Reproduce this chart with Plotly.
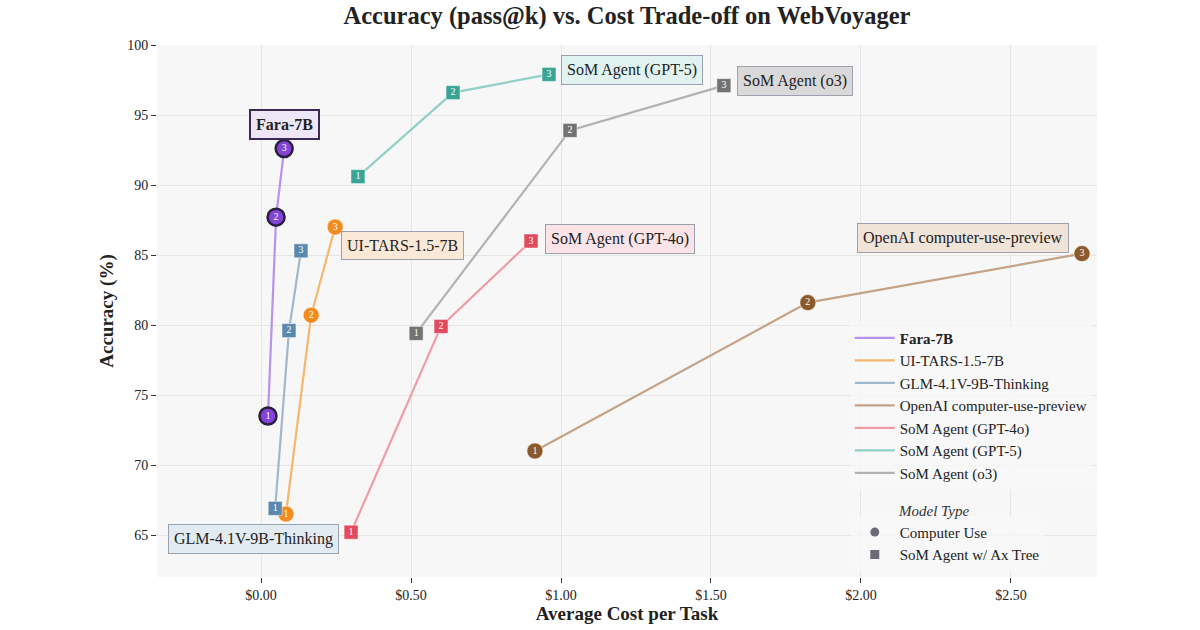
import plotly.graph_objects as go

series_names = ["Fara-7B", "UI-TARS-1.5-7B", "GLM-4.1V-9B-Thinking", "OpenAI computer-use-preview",
                "SoM Agent (GPT-4o)", "SoM Agent (GPT-5)", "SoM Agent (o3)"]
cost = {
    "Fara-7B": [0.023, 0.05, 0.077],
    "UI-TARS-1.5-7B": [0.083, 0.167, 0.247],
    "GLM-4.1V-9B-Thinking": [0.047, 0.093, 0.133],
    "OpenAI computer-use-preview": [0.913, 1.823, 2.737],
    "SoM Agent (GPT-4o)": [0.30, 0.60, 0.90],
    "SoM Agent (GPT-5)": [0.323, 0.64, 0.96],
    "SoM Agent (o3)": [0.517, 1.03, 1.543],
}
accuracy = {
    "Fara-7B": [73.5, 87.7, 92.6],
    "UI-TARS-1.5-7B": [66.5, 80.7, 87.0],
    "GLM-4.1V-9B-Thinking": [66.9, 79.6, 85.3],
    "OpenAI computer-use-preview": [71.0, 81.6, 85.1],
    "SoM Agent (GPT-4o)": [65.2, 79.9, 86.0],
    "SoM Agent (GPT-5)": [90.6, 96.6, 97.9],
    "SoM Agent (o3)": [79.4, 93.9, 97.1],
}
k_labels = ["1", "2", "3"]
model_type = {
    "Fara-7B": "circle", "UI-TARS-1.5-7B": "circle", "GLM-4.1V-9B-Thinking": "square",
    "OpenAI computer-use-preview": "circle", "SoM Agent (GPT-4o)": "square",
    "SoM Agent (GPT-5)": "square", "SoM Agent (o3)": "square",
}
marker_color = {
    "Fara-7B": "#8344d6", "UI-TARS-1.5-7B": "#f28c1e", "GLM-4.1V-9B-Thinking": "#5a89ad",
    "OpenAI computer-use-preview": "#8b5a2b", "SoM Agent (GPT-4o)": "#e44a5d",
    "SoM Agent (GPT-5)": "#3aa597", "SoM Agent (o3)": "#727272",
}
line_color = {
    "Fara-7B": "#b892ef", "UI-TARS-1.5-7B": "#f6b66c", "GLM-4.1V-9B-Thinking": "#9fb8cc",
    "OpenAI computer-use-preview": "#c4a386", "SoM Agent (GPT-4o)": "#f09ca7",
    "SoM Agent (GPT-5)": "#90d0c6", "SoM Agent (o3)": "#b2b2b2",
}
label_bg = {
    "Fara-7B": "#ede6f6", "UI-TARS-1.5-7B": "#fbe9d8", "GLM-4.1V-9B-Thinking": "#e3ebf2",
    "OpenAI computer-use-preview": "#f0e3d7", "SoM Agent (GPT-4o)": "#fbe4e8",
    "SoM Agent (GPT-5)": "#e1f3f0", "SoM Agent (o3)": "#d9d9d9",
}
# label anchor: (point index, x shift px, y shift px)
label_pos = {
    "Fara-7B": (2, 0, 24), "UI-TARS-1.5-7B": (2, 67, -18), "GLM-4.1V-9B-Thinking": (0, -22, -31),
    "OpenAI computer-use-preview": (2, -119, 16), "SoM Agent (GPT-4o)": (2, 89, 2),
    "SoM Agent (GPT-5)": (2, 83, 4), "SoM Agent (o3)": (2, 71, 5),
}
type_names = ["Computer Use", "SoM Agent w/ Ax Tree"]
type_symbols = ["circle", "square"]

font_family = "Liberation Serif, Times New Roman, serif"
fig = go.Figure()

for name in series_names:
    is_fara = name == "Fara-7B"
    sym = model_type[name]
    fig.add_trace(go.Scatter(
        x=cost[name], y=accuracy[name], mode="lines+markers+text",
        text=k_labels, textposition="middle center",
        textfont=dict(color="white", size=10, family=font_family),
        line=dict(color=line_color[name], width=2.2),
        marker=dict(symbol=sym, color=marker_color[name],
                    size=(17 if is_fara else 16) if sym == "circle" else 14,
                    line=dict(color="#2b1f40" if is_fara else "white", width=2.5 if is_fara else 0.5)),
        showlegend=False, cliponaxis=False,
    ))

# legend line entries
for name in series_names:
    fig.add_trace(go.Scatter(
        x=[None], y=[None], mode="lines", name=f"<b>{name}</b>" if name == "Fara-7B" else name,
        line=dict(color=line_color[name], width=2.2), legend="legend",
    ))

# model type legend
for tn, ts in zip(type_names, type_symbols):
    fig.add_trace(go.Scatter(
        x=[None], y=[None], mode="markers", name=tn,
        marker=dict(symbol=ts, color="#6b6b78", size=9), legend="legend2",
    ))

for name in series_names:
    idx, ax, ay = label_pos[name]
    is_fara = name == "Fara-7B"
    fig.add_annotation(
        x=cost[name][idx], y=accuracy[name][idx],
        text=f"<b>{name}</b>" if is_fara else name,
        showarrow=False, xshift=ax, yshift=ay,
        font=dict(size=16, color="#222", family=font_family),
        bgcolor=label_bg[name],
        bordercolor="#3c2a55" if is_fara else "#9aa3ad",
        borderwidth=2 if is_fara else 1, borderpad=5,
    )

fig.add_annotation(
    text="<i>Model Type</i>", xref="paper", yref="paper", x=0.786, y=0.124,
    xanchor="left", yanchor="middle", showarrow=False,
    font=dict(size=15, color="#333", family=font_family),
)

fig.update_layout(
    width=1200, height=630,
    margin=dict(l=157, r=103, t=45, b=53),
    paper_bgcolor="white", plot_bgcolor="#f7f7f7",
    font=dict(family=font_family, size=14, color="#222"),
    title=dict(text="<b>Accuracy (pass@k) vs. Cost Trade-off on WebVoyager</b>",
               x=0.5225, xanchor="center", y=0.975, yanchor="middle",
               font=dict(size=24.5, color="#222", family=font_family)),
    xaxis=dict(range=[-0.347, 2.787], tickvals=[0, 0.5, 1.0, 1.5, 2.0, 2.5],
               ticktext=["$0.00", "$0.50", "$1.00", "$1.50", "$2.00", "$2.50"],
               showgrid=True, gridcolor="#e6e6e6", zeroline=False, automargin=False,
               ticks="outside", ticklen=5, tickcolor="#333",
               title=dict(text="<b>Average Cost per Task</b>", font=dict(size=19), standoff=4),
               tickfont=dict(size=14)),
    yaxis=dict(range=[62, 100], tickvals=[65, 70, 75, 80, 85, 90, 95, 100],
               showgrid=True, gridcolor="#e6e6e6", zeroline=False, automargin=False,
               ticks="outside", ticklen=5, tickcolor="#333",
               title=dict(text="<b>Accuracy (%)</b>", font=dict(size=19), standoff=8),
               tickfont=dict(size=14)),
    legend=dict(x=0.737, y=0.48, xanchor="left", yanchor="top",
                bgcolor="rgba(247,247,247,0.8)", font=dict(size=15), tracegroupgap=0,
                itemwidth=40),
    legend2=dict(x=0.737, y=0.115, xanchor="left", yanchor="top",
                 bgcolor="rgba(247,247,247,0.8)", font=dict(size=15),
                 itemwidth=40),
)

fig.write_html("out.html")
